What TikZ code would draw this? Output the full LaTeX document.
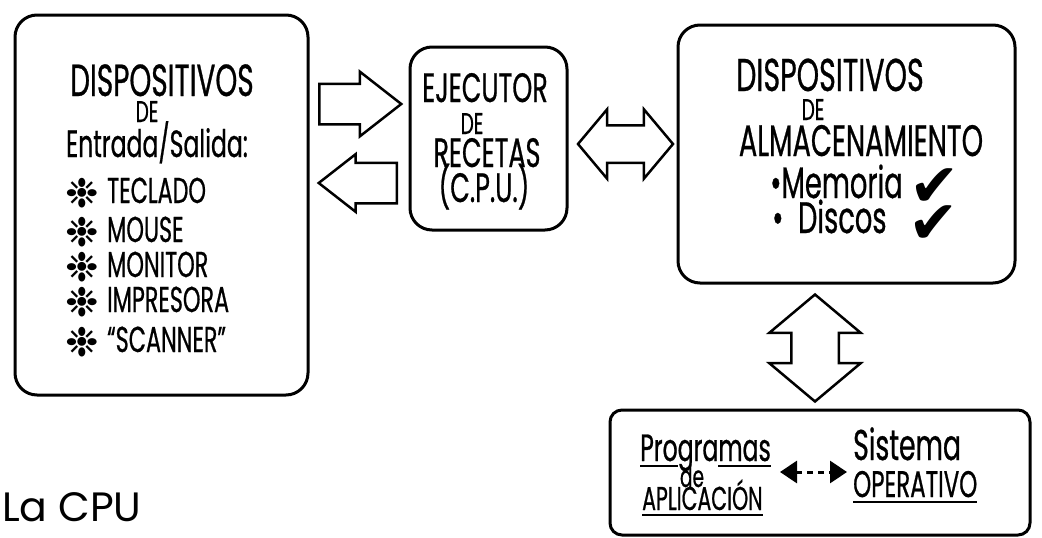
\documentclass[tikz,border=0pt]{standalone}
\usepackage{fontspec}
\usetikzlibrary{shapes.arrows,arrows.meta}
\setmainfont{Poppins}
\newfontfamily\handfont[FakeStretch=0.62,FakeBold=0.6]{Poppins}
\newfontfamily\symbfont{DejaVu Sans}
\newcommand\fsz[1]{\fontsize{#1}{#1}\selectfont}
\newcommand\handline[1]{\setbox0\hbox{#1}\rlap{\rule[-6pt]{\wd0}{2.5pt}}#1}
\tikzset{
  box/.style={draw, line width=3pt, rounded corners=22pt, inner sep=0pt},
  txt/.style={inner sep=0pt, anchor=base, text depth=0pt, font=\handfont},
  star/.style={inner sep=0pt, font=\symbfont\fsz{40}},
  tick/.style={inner sep=0pt, font=\symbfont\fsz{60}},
  fat/.style={draw, line width=2.5pt},
}
\begin{document}
\begin{tikzpicture}[x=1pt,y=-1pt]
		\useasboundingbox (0,0) rectangle (1042,538);
		\node [box, minimum width=293pt, minimum height=380pt] (iobox) at (161.5,205) {};
		\node [box, minimum width=157pt, minimum height=183pt] (cpubox) at (488.5,138.5) {};
		\node [box, minimum width=337pt, minimum height=258pt] (storebox) at (846.5,154) {};
		\node [box, minimum width=420pt, minimum height=125pt, rounded corners=12pt] (swbox) at (820,472.5) {};
		\node [txt, font=\handfont\fsz{45}] (iotitle) at (162,96) {DISPOSITIVOS};
		\node [txt, font=\handfont\fsz{30}] (iode) at (147,122) {DE};
		\node [txt, font=\handfont\fsz{38}] (iosub) at (157,157) {Entrada/Salida:};
		\node [txt, anchor=base west, font=\handfont\fsz{36}] (teclado) at (107,203) {TECLADO};
		\node [txt, anchor=base west, font=\handfont\fsz{36}] (mouse) at (107,242) {MOUSE};
		\node [txt, anchor=base west, font=\handfont\fsz{36}] (monitor) at (107,277) {MONITOR};
		\node [txt, anchor=base west, font=\handfont\fsz{36}] (impresora) at (107,312) {IMPRESORA};
		\node [txt, anchor=base west, font=\handfont\fsz{36}] (scanner) at (107,352) {“SCANNER”};
		\node [star] (s1) at (82,193) {❉};
		\node [star] (s2) at (82,232) {❉};
		\node [star] (s3) at (82,267) {❉};
		\node [star] (s4) at (82,302) {❉};
		\node [star] (s5) at (82,342) {❉};
		\node [txt, font=\handfont\fsz{41}] (ejecutor) at (485,102) {EJECUTOR};
		\node [txt, font=\handfont\fsz{30}] (cpude) at (472,134) {DE};
		\node [txt, font=\handfont\fsz{41}] (recetas) at (487,167) {RECETAS};
		\node [txt, font=\handfont\fsz{41}] (cpu) at (484,202) {(C.P.U.)};
		\node [txt, font=\handfont\fsz{46}] (sttitle) at (830,91) {DISPOSITIVOS};
		\node [txt, font=\handfont\fsz{30}] (stde) at (813,120) {DE};
		\node [txt, font=\handfont\fsz{44}] (stsub) at (861,156) {ALMACENAMIENTO};
		\node [txt, anchor=base west, font=\handfont\fsz{44}] (memoria) at (770,198) {•Memoria};
		\node [txt, anchor=base west, font=\handfont\fsz{44}] (discos) at (772,233) {•\,\,Discos};
		\node [tick] (tick1) at (935,188) {✔};
		\node [tick] (tick2) at (934,225) {✔};
		\node [txt, anchor=base west, font=\handfont\fsz{38}] (prog) at (640,461) {\handline{Pro}gra\handline{mas}};
		\node [txt, font=\handfont\fsz{30}] (progde) at (692,487) {de};
		\node [txt, anchor=base west, font=\handfont\fsz{33}] (aplic) at (642,510) {\handline{APLICACIÓN}};
		\node [txt, anchor=base west, font=\handfont\fsz{43}] (sistema) at (853,460) {Sistema};
		\node [txt, anchor=base west, font=\handfont\fsz{37}] (operativo) at (853,497) {\handline{OPERATIVO}};
		\coordinate (dashl) at (780,472);
		\coordinate (dashr) at (847,472);
		\draw [line width=3pt, dash pattern=on 6pt off 5pt, {Triangle[length=17pt,width=22pt]}-{Triangle[length=17pt,width=22pt]}] (dashl) -- (dashr);
		\node [fat, single arrow, anchor=tail, inner sep=19pt, minimum height=82pt, minimum width=62pt, single arrow head extend=12pt, single arrow tip angle=76] (inarrow) at (318,104) {};
		\node [fat, single arrow, anchor=tail, shape border rotate=180, inner sep=19pt, minimum height=78pt, minimum width=55pt, single arrow head extend=8.5pt, single arrow tip angle=76] (outarrow) at (398,183) {};
		\node [fat, double arrow, inner sep=17.5pt, minimum height=95pt, minimum width=67pt, double arrow head extend=16pt, double arrow tip angle=100] (busarrow) at (625.5,144) {};
		\node [fat, double arrow, shape border rotate=90, inner sep=22.5pt, minimum height=107pt, minimum width=90pt, double arrow head extend=22pt, double arrow tip angle=100] (osarrow) at (815,348) {};
		\node [inner sep=0pt, anchor=base west, font=\fsz{41}] (title) at (2,521) {La CPU};
	\end{tikzpicture}
\end{document}
